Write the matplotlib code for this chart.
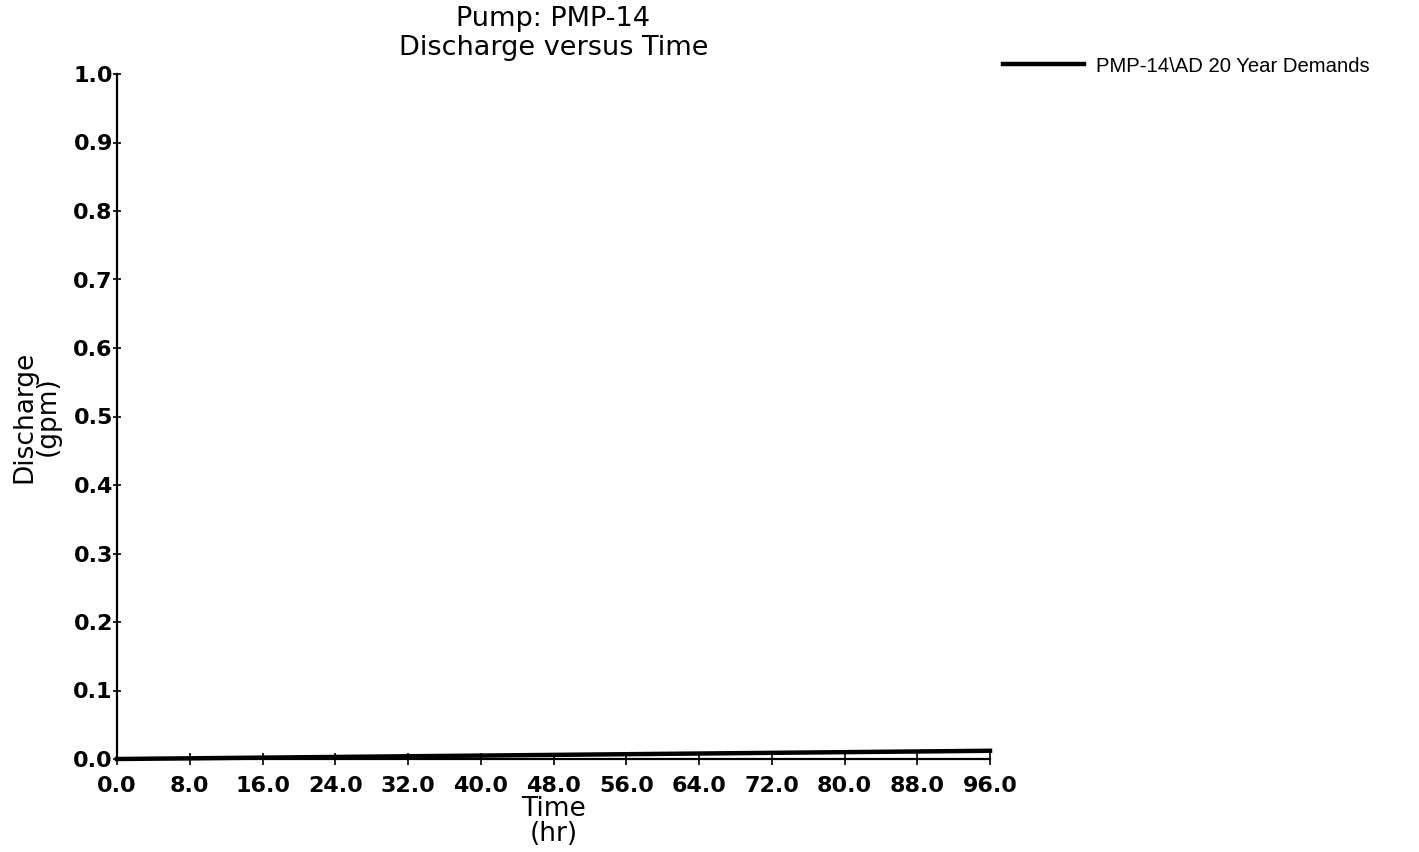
import numpy as np
import matplotlib.pyplot as plt

# values
time_hr = [0, 8, 16, 24, 32, 40, 48, 56, 64, 72, 80, 88, 96]
discharge_gpm = [0.0, 0.001, 0.002, 0.003, 0.004, 0.005, 0.006,
                 0.007, 0.008, 0.009, 0.010, 0.011, 0.012]
x_ticks = np.arange(0, 97, 8)
y_ticks = np.arange(0, 1.01, 0.1)
series_name = 'PMP-14\\AD 20 Year Demands'

plt.rcParams['font.family'] = ['DejaVu Sans']

fig = plt.figure(figsize=(14.19, 8.52), dpi=100)
ax = fig.add_axes([117 / 1419, 1 - 759 / 852, (990 - 117) / 1419, (759 - 74) / 852])

ax.plot(time_hr, discharge_gpm, color='black', linewidth=3.2,
        clip_on=False, zorder=5, label=series_name)

ax.set_xlim(0, 96)
ax.set_ylim(0, 1.0)
ax.set_xticks(x_ticks)
ax.set_xticklabels([f'{v:.1f}' for v in x_ticks], fontweight='bold')
ax.set_yticks(y_ticks)
ax.set_yticklabels([f'{v:.1f}' for v in y_ticks], fontweight='bold')

for s in ['top', 'right']:
    ax.spines[s].set_visible(False)
for s in ['left', 'bottom']:
    ax.spines[s].set_linewidth(1.6)

ax.tick_params(axis='both', direction='inout', width=1.2, labelsize=16)
ax.tick_params(axis='x', length=8, pad=8)
ax.tick_params(axis='y', length=6, pad=0)

ax.set_title('Pump: PMP-14\nDischarge versus Time', fontsize=19.5, linespacing=1.15, pad=14)
ax.set_xlabel('Time\n(hr)', fontsize=19, linespacing=0.95, labelpad=0)
ax.set_ylabel('Discharge\n(gpm)', fontsize=19, linespacing=0.88, labelpad=9)

fig.legend(loc='center left', bbox_to_anchor=(1003 / 1419, 1 - 66 / 852),
           frameon=False, borderpad=0, borderaxespad=0, handlelength=4.0,
           handletextpad=0.6, prop={'family': 'Liberation Sans', 'size': 14.6})

fig.savefig('out.png', dpi=100, facecolor='white')
